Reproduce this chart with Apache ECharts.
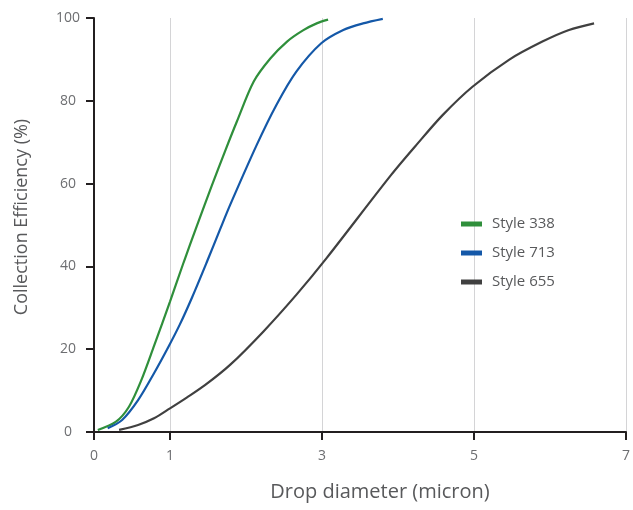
<!DOCTYPE html>
<html>
<head>
<meta charset="utf-8">
<script src="https://cdn.jsdelivr.net/npm/echarts@6/dist/echarts.min.js"></script>
<style>
html,body{margin:0;padding:0;background:#fff;}
#chart{width:633px;height:510px;}
</style>
</head>
<body>
<div id="chart"></div>
<script>
const seriesNames = ['Style 338', 'Style 713', 'Style 655'];
const xTickValues = [0, 1, 3, 5, 7];

const style338X = [0.05, 0.29, 0.46, 0.62, 0.79, 1.0, 1.18, 1.35, 1.55, 1.73, 1.88, 2.10, 2.32, 2.54, 2.75, 2.93, 3.08];
const style338Y = [0.5, 2.5, 6.1, 12.4, 20.8, 31.5, 41, 49.6, 59.5, 68.1, 75, 84.6, 90.2, 94.3, 97.0, 98.7, 99.6];

const style713X = [0.18, 0.37, 0.58, 0.79, 0.98, 1.13, 1.29, 1.49, 1.66, 1.79, 2.14, 2.40, 2.66, 2.99, 3.28, 3.54, 3.80];
const style713Y = [0.9, 2.9, 7.7, 14.2, 20.6, 26.0, 32.5, 41.3, 49.0, 54.8, 69.3, 79, 87, 93.9, 97.1, 98.7, 99.8];

const style655X = [0.33, 0.58, 0.79, 1.0, 1.22, 1.46, 1.79, 2.23, 2.67, 3.06, 3.91, 4.24, 4.59, 4.98, 5.46, 5.90, 6.25, 6.58];
const style655Y = [0.5, 1.7, 3.3, 5.7, 8.3, 11.3, 16.2, 24.3, 33.3, 42, 62.1, 69.3, 76.6, 83.4, 89.9, 94.3, 97.1, 98.7];

const colors = ['#2f8f3b', '#1458a8', '#404040'];
const FONT = '"Open Sans", "Noto Sans", sans-serif';

function pairs(xs, ys) { return xs.map((x, i) => [x, ys[i]]); }

const chart = echarts.init(document.getElementById('chart'), null, {renderer: 'canvas'});
const axisColor = '#231f20';
const labelColor = '#6d6e71';
const titleColor = '#58595b';

function lineSeries(i, xs, ys) {
  return {
    name: seriesNames[i], type: 'line', data: pairs(xs, ys),
    smooth: 0.3, showSymbol: false, z: 3,
    lineStyle: {width: 2.2, color: colors[i]}, itemStyle: {color: colors[i]}
  };
}

chart.setOption({
  animation: false,
  backgroundColor: '#ffffff',
  color: colors,
  grid: {left: 94, right: 4, top: 18, bottom: 78, containLabel: false},
  legend: {
    orient: 'vertical',
    left: 456,
    top: 211,
    icon: 'rect',
    itemWidth: 21,
    itemHeight: 5,
    itemGap: 13,
    data: seriesNames,
    textStyle: {color: titleColor, fontSize: 15, fontFamily: FONT, padding: [0, 0, 0, 5], lineHeight: 16}
  },
  xAxis: {
    type: 'value',
    min: 0, max: 7, interval: 1,
    name: 'Drop diameter (micron)',
    nameLocation: 'middle',
    nameGap: 50,
    nameTextStyle: {color: titleColor, fontSize: 20, fontFamily: FONT, padding: [0, 0, 0, 40]},
    axisLine: {show: true, onZero: false, lineStyle: {color: axisColor, width: 2}},
    axisTick: {show: true, inside: false, length: 8, lineStyle: {color: axisColor, width: 2}, customValues: xTickValues},
    axisLabel: {color: labelColor, fontSize: 14, fontFamily: FONT, margin: 17, customValues: xTickValues},
    splitLine: {show: true, lineStyle: {color: '#d4d4d6', width: 1}}
  },
  yAxis: {
    type: 'value',
    min: 0, max: 100, interval: 20,
    name: 'Collection Efficiency (%)',
    nameLocation: 'middle',
    nameGap: 63,
    nameTextStyle: {color: titleColor, fontSize: 18, fontFamily: FONT, padding: [0, 0, 0, 16]},
    axisLine: {show: true, lineStyle: {color: axisColor, width: 2}},
    axisTick: {show: true, inside: false, length: 8, lineStyle: {color: axisColor, width: 2}},
    axisLabel: {color: labelColor, fontSize: 14, fontFamily: FONT, margin: 26, align: 'center'},
    splitLine: {show: false}
  },
  series: [
    lineSeries(0, style338X, style338Y),
    lineSeries(1, style713X, style713Y),
    lineSeries(2, style655X, style655Y)
  ]
});
</script>
</body>
</html>
